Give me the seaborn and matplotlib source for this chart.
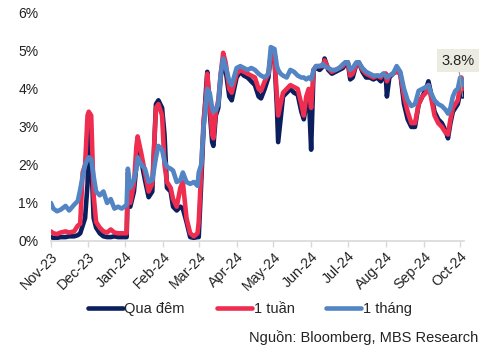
import matplotlib
matplotlib.use('Agg')
import matplotlib.pyplot as plt
import matplotlib.dates as mdates
import matplotlib.ticker as mticker
import seaborn as sns
import pandas as pd

# Lãi suất liên ngân hàng (%)
dates = [
    "2023-11-01", "2023-11-03", "2023-11-06", "2023-11-09", "2023-11-13", "2023-11-16",
    "2023-11-20", "2023-11-23", "2023-11-25", "2023-11-27", "2023-11-29", "2023-12-01",
    "2023-12-02", "2023-12-04", "2023-12-06", "2023-12-08", "2023-12-11", "2023-12-14",
    "2023-12-17", "2023-12-20", "2023-12-23", "2023-12-26", "2023-12-29", "2024-01-02",
    "2024-01-03", "2024-01-05", "2024-01-08", "2024-01-10", "2024-01-11", "2024-01-14",
    "2024-01-17", "2024-01-20", "2024-01-23", "2024-01-26", "2024-01-28", "2024-01-31",
    "2024-02-02", "2024-02-04", "2024-02-07", "2024-02-09", "2024-02-12", "2024-02-15",
    "2024-02-17", "2024-02-20", "2024-02-23", "2024-02-26", "2024-02-29", "2024-03-01",
    "2024-03-03", "2024-03-05", "2024-03-07", "2024-03-08", "2024-03-10", "2024-03-12",
    "2024-03-13", "2024-03-15", "2024-03-17", "2024-03-19", "2024-03-21", "2024-03-23",
    "2024-03-26", "2024-03-28", "2024-04-01", "2024-04-04", "2024-04-07", "2024-04-10",
    "2024-04-13", "2024-04-16", "2024-04-19", "2024-04-21", "2024-04-24", "2024-04-27",
    "2024-04-29", "2024-05-02", "2024-05-04", "2024-05-05", "2024-05-07", "2024-05-09",
    "2024-05-12", "2024-05-15", "2024-05-18", "2024-05-21", "2024-05-24", "2024-05-26",
    "2024-05-28", "2024-05-30", "2024-06-01", "2024-06-03", "2024-06-05", "2024-06-08",
    "2024-06-11", "2024-06-12", "2024-06-15", "2024-06-18", "2024-06-21", "2024-06-24",
    "2024-06-27", "2024-06-29", "2024-07-01", "2024-07-03", "2024-07-05", "2024-07-08",
    "2024-07-10", "2024-07-13", "2024-07-16", "2024-07-19", "2024-07-22", "2024-07-25",
    "2024-07-28", "2024-07-30", "2024-08-01", "2024-08-02", "2024-08-04", "2024-08-07",
    "2024-08-10", "2024-08-13", "2024-08-16", "2024-08-19", "2024-08-22", "2024-08-25",
    "2024-08-28", "2024-08-31", "2024-09-03", "2024-09-05", "2024-09-07", "2024-09-10",
    "2024-09-13", "2024-09-16", "2024-09-19", "2024-09-21", "2024-09-23", "2024-09-25",
    "2024-09-27", "2024-09-29", "2024-10-01", "2024-10-02", "2024-10-03",
]

qua_dem = [
    0.10, 0.08, 0.08, 0.10, 0.10, 0.12, 0.12, 0.15, 0.20, 0.40, 0.60, 1.50,
    3.00, 2.20, 0.60, 0.35, 0.20, 0.12, 0.10, 0.10, 0.12, 0.10, 0.10, 0.10,
    1.50, 0.90, 1.30, 2.00, 2.60, 2.10, 1.60, 1.15, 1.30, 3.60, 3.70, 3.50,
    2.80, 1.40, 1.30, 0.90, 0.80, 0.90, 0.85, 0.50, 0.10, 0.08, 0.10, 0.10,
    1.50, 3.00, 4.00, 4.45, 3.40, 2.60, 2.50, 3.30, 3.50, 4.30, 4.80, 4.50,
    3.80, 3.70, 4.30, 4.45, 4.35, 4.30, 4.20, 4.10, 3.80, 3.75, 4.00, 4.30,
    4.90, 4.80, 3.50, 2.60, 3.20, 3.80, 3.90, 4.00, 3.90, 3.85, 3.40, 3.20,
    3.60, 3.90, 2.40, 4.50, 4.55, 4.50, 4.60, 4.80, 4.50, 4.40, 4.45, 4.50,
    4.55, 4.65, 4.70, 4.25, 4.30, 4.65, 4.70, 4.45, 4.30, 4.30, 4.25, 4.30,
    4.20, 4.30, 4.40, 3.80, 4.30, 4.40, 4.50, 4.40, 3.60, 3.20, 3.00, 3.00,
    3.60, 3.80, 4.00, 4.20, 3.90, 3.40, 3.20, 3.10, 2.90, 2.70, 3.10, 3.40,
    3.50, 3.60, 3.90, 4.20, 3.80,
]

mot_tuan = [
    0.25, 0.20, 0.18, 0.22, 0.25, 0.22, 0.25, 0.40, 0.45, 1.80, 2.00, 3.30,
    3.40, 3.30, 1.20, 0.50, 0.35, 0.25, 0.22, 0.30, 0.22, 0.20, 0.20, 0.20,
    1.80, 1.00, 1.50, 2.50, 2.75, 2.30, 1.80, 1.30, 1.50, 3.50, 3.60, 3.30,
    2.00, 1.55, 1.40, 1.10, 0.90, 1.40, 1.55, 0.60, 0.20, 0.12, 0.20, 0.50,
    1.80, 3.20, 3.80, 4.40, 3.60, 2.80, 2.70, 3.40, 3.70, 4.40, 4.95, 4.70,
    4.00, 3.90, 4.40, 4.50, 4.45, 4.40, 4.35, 4.30, 4.00, 3.95, 4.20, 4.40,
    4.90, 4.80, 3.80, 3.30, 3.60, 3.90, 4.00, 4.10, 4.05, 4.00, 3.60, 3.30,
    3.80, 4.00, 3.50, 4.50, 4.60, 4.60, 4.60, 4.75, 4.55, 4.45, 4.50, 4.55,
    4.60, 4.70, 4.70, 4.35, 4.40, 4.65, 4.70, 4.50, 4.40, 4.35, 4.30, 4.35,
    4.30, 4.40, 4.40, 4.20, 4.35, 4.40, 4.45, 4.40, 3.80, 3.40, 3.10, 3.10,
    3.60, 3.80, 3.90, 4.10, 3.80, 3.30, 3.10, 3.00, 2.85, 2.80, 3.20, 3.50,
    3.60, 3.70, 4.10, 4.30, 4.00,
]

mot_thang = [
    1.00, 0.85, 0.78, 0.82, 0.92, 0.80, 0.95, 1.05, 1.35, 1.70, 2.00, 2.15,
    2.20, 2.15, 1.70, 1.30, 1.20, 1.30, 1.00, 1.10, 0.85, 0.90, 0.85, 0.95,
    1.90, 1.40, 1.60, 1.90, 2.20, 2.00, 1.90, 1.55, 1.60, 2.20, 2.50, 2.40,
    2.10, 1.95, 1.90, 1.85, 1.55, 1.60, 1.80, 1.55, 1.50, 1.55, 1.45, 1.80,
    2.00, 3.00, 3.60, 4.00, 3.90, 3.50, 3.40, 3.45, 3.60, 4.40, 4.80, 4.60,
    4.20, 4.10, 4.55, 4.60, 4.55, 4.50, 4.55, 4.50, 4.40, 4.35, 4.30, 4.40,
    5.10, 5.05, 4.60, 4.50, 4.40, 4.35, 4.30, 4.50, 4.45, 4.35, 4.30, 4.30,
    4.25, 4.30, 4.25, 4.50, 4.60, 4.60, 4.65, 4.60, 4.55, 4.50, 4.50, 4.55,
    4.65, 4.70, 4.70, 4.50, 4.55, 4.70, 4.70, 4.55, 4.45, 4.40, 4.35, 4.35,
    4.35, 4.40, 4.35, 4.30, 4.35, 4.40, 4.60, 4.45, 4.00, 3.70, 3.55, 3.60,
    3.95, 4.00, 4.05, 4.10, 3.90, 3.70, 3.60, 3.55, 3.45, 3.35, 3.50, 3.80,
    3.95, 4.00, 4.30, 4.25, 4.10,
]

series_names = ["Qua đêm", "1 tuần", "1 tháng"]
colors = ["#0B1F5E", "#EE2D4F", "#5384C4"]
label_value = "3.8%"
source_text = "Nguồn: Bloomberg, MBS Research"

df = pd.DataFrame({"date": pd.to_datetime(dates),
                   series_names[0]: qua_dem,
                   series_names[1]: mot_tuan,
                   series_names[2]: mot_thang})
long_df = df.melt(id_vars="date", var_name="ky_han", value_name="lai_suat")

sns.set_theme(style="white")
plt.rcParams['font.family'] = ['Liberation Sans', 'DejaVu Sans']

fig = plt.figure(figsize=(4.94, 3.59), dpi=100)
ax = fig.add_axes([0.103, 0.329, 0.836, 0.635])

sns.lineplot(data=long_df, x="date", y="lai_suat", hue="ky_han",
             hue_order=series_names, palette=colors, linewidth=3.3,
             ax=ax, legend=True)

ax.set_xlim(pd.Timestamp("2023-11-01"), pd.Timestamp("2024-10-04"))
ax.set_ylim(0, 6)
ax.yaxis.set_major_locator(mticker.MultipleLocator(1))
ax.yaxis.set_major_formatter(mticker.FuncFormatter(lambda v, p: f"{v:.0f}%"))
ax.xaxis.set_major_locator(mdates.MonthLocator())
ax.xaxis.set_major_formatter(mdates.DateFormatter("%b-%y"))

for s in ["top", "right", "left"]:
    ax.spines[s].set_visible(False)
ax.spines["bottom"].set_color("#D9D9D9")
ax.spines["bottom"].set_linewidth(1.2)
ax.tick_params(axis="y", length=0, pad=9, labelsize=10, labelcolor="#222222")
ax.tick_params(axis="x", length=4, width=1, color="#D9D9D9", direction="out",
               pad=2, labelsize=10.3, labelcolor="#222222", bottom=True)
plt.setp(ax.get_xticklabels(), rotation=45, ha="right", rotation_mode="anchor")
ax.set_xlabel("")
ax.set_ylabel("")
ax.grid(False)

# nhãn giá trị cuối kỳ
ax.annotate(label_value, xy=(df["date"].iloc[-1], qua_dem[-1]),
            xytext=(-5, 36), textcoords="offset pixels", ha="center", va="center",
            fontsize=10.5, color="#222222",
            bbox=dict(boxstyle="square,pad=0.3", fc="#ECEBE1", ec="none"),
            arrowprops=dict(arrowstyle="-", color="#999999", lw=0.8,
                            shrinkA=0, shrinkB=0))

handles, labels = ax.get_legend_handles_labels()
ax.legend_.remove()
fig.legend(handles, labels, loc="center", bbox_to_anchor=(0.506, 0.138), ncol=3,
           frameon=False, handlelength=2.4, handletextpad=0.1, columnspacing=2.2,
           fontsize=10.5)

fig.text(0.968, 0.061, source_text, ha="right", va="center", fontsize=10.5,
         color="#222222")

fig.savefig("out.png", dpi=100, facecolor="white")
